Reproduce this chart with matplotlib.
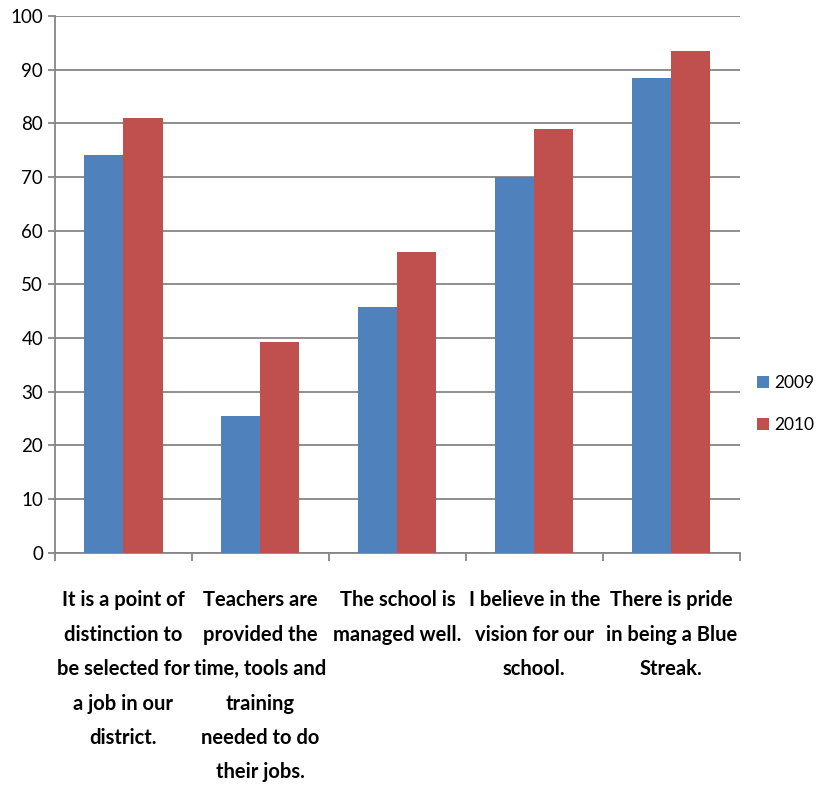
import matplotlib.pyplot as plt
import numpy as np

# Data
categories = ["It is a point of\ndistinction to\nbe selected for\na job in our\ndistrict.",
              "Teachers are\nprovided the\ntime, tools and\ntraining\nneeded to do\ntheir jobs.",
              "The school is\nmanaged well.",
              "I believe in the\nvision for our\nschool.",
              "There is pride\nin being a Blue\nStreak."]
vals_2009 = [74, 25.5, 45.7, 70, 88.4]
vals_2010 = [81, 39.2, 56, 79, 93.4]
series_names = ["2009", "2010"]
yticks = [0, 10, 20, 30, 40, 50, 60, 70, 80, 90, 100]

plt.rcParams['font.family'] = ['Lato', 'DejaVu Sans']

fig = plt.figure(figsize=(8.21, 7.91), dpi=100)
ax = fig.add_axes([0.067, 0.301, 0.834, 0.679])

x = np.arange(len(categories))
w = 0.285
ax.bar(x - w / 2, vals_2009, w, color='#4F81BD', label=series_names[0], zorder=3)
ax.bar(x + w / 2, vals_2010, w, color='#C0504D', label=series_names[1], zorder=3)

ax.set_xlim(-0.5, len(categories) - 0.5)
ax.set_ylim(0, 100)
ax.set_yticks(yticks)
ax.yaxis.grid(True, color='#868686', linewidth=1.3, zorder=0)
ax.tick_params(axis='y', labelsize=13.5, length=5, color='#868686', width=1.3)

ax.set_xticks(x)
ax.set_xticklabels(categories, fontsize=14.5, fontweight='bold', linespacing=1.9, va='top')
ax.tick_params(axis='x', which='major', length=0, pad=27)
ax.set_xticks(np.arange(-0.5, len(categories)), minor=True)
ax.tick_params(axis='x', which='minor', length=6, color='#868686', width=1.3)

for s in ['top', 'right']:
    ax.spines[s].set_visible(False)
for s in ['left', 'bottom']:
    ax.spines[s].set_color('#868686')
    ax.spines[s].set_linewidth(1.3)

ax.legend(loc='center left', bbox_to_anchor=(1.025, 0.277), borderaxespad=0, borderpad=0,
          frameon=False, fontsize=12.5, handlelength=0.7, handleheight=0.7,
          handletextpad=0.3, labelspacing=1.5)

fig.savefig('out.png', dpi=100)
